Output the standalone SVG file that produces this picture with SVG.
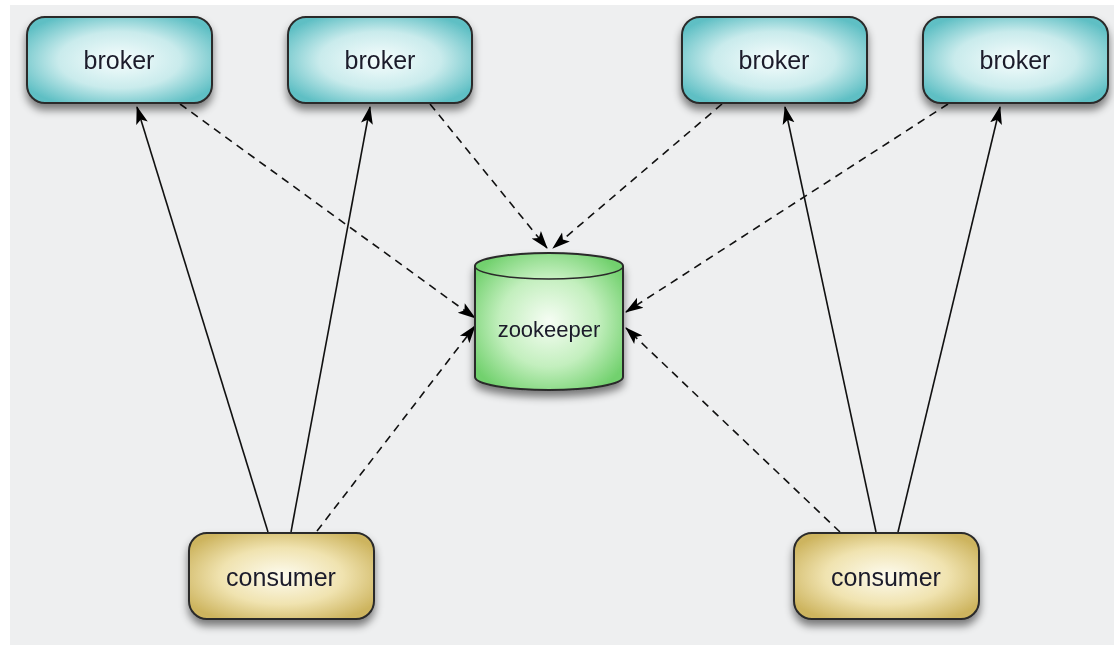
<svg xmlns="http://www.w3.org/2000/svg" width="1114" height="646" viewBox="0 0 1114 646">
<style>
.box{stroke:#2a2a2a;stroke-width:2}
.lbl{font-family:"Liberation Sans",Arial,sans-serif;font-size:25px;fill:#1a1a2a;text-anchor:middle;dominant-baseline:central}
.solid{stroke:#111;stroke-width:1.6;fill:none;marker-end:url(#ah)}
.dash{stroke:#111;stroke-width:1.6;fill:none;stroke-dasharray:8 6;marker-end:url(#ah)}
</style>
<defs>
<radialGradient id="gb" cx="50%" cy="50%" r="60%">
<stop offset="0" stop-color="#f6fdfd"/><stop offset="0.55" stop-color="#c9ebec"/><stop offset="1" stop-color="#5ebfc4"/>
</radialGradient>
<radialGradient id="gc" cx="50%" cy="50%" r="60%">
<stop offset="0" stop-color="#fdfbef"/><stop offset="0.55" stop-color="#f0e3b0"/><stop offset="1" stop-color="#cdb45e"/>
</radialGradient>
<radialGradient id="gz" cx="50%" cy="50%" r="60%">
<stop offset="0" stop-color="#f6fdf4"/><stop offset="0.55" stop-color="#c3efbe"/><stop offset="1" stop-color="#72d16e"/>
</radialGradient>
<filter id="sh" x="-20%" y="-20%" width="140%" height="160%">
<feGaussianBlur in="SourceAlpha" stdDeviation="4"/>
<feOffset dy="6"/>
<feComponentTransfer><feFuncA type="linear" slope="0.5"/></feComponentTransfer>
<feMerge><feMergeNode/><feMergeNode in="SourceGraphic"/></feMerge>
</filter>
<marker id="ah" viewBox="0 0 18 14" refX="17" refY="7" markerWidth="18" markerHeight="14" markerUnits="userSpaceOnUse" orient="auto">
<path d="M0,1 L18,7 L0,13 L4,7 Z" fill="#000"/>
</marker>
</defs>
<rect x="0" y="0" width="1114" height="646" fill="#ffffff"/>
<rect x="10" y="5" width="1104" height="640" fill="#eeeff0"/>

<g id="connectors">
<line class="solid" x1="268" y1="532" x2="137" y2="107"/>
<line class="solid" x1="291" y1="532" x2="370" y2="107"/>
<line class="dash" x1="317" y1="531" x2="475" y2="326"/>
<line class="dash" x1="180" y1="104" x2="475" y2="318"/>
<line class="dash" x1="430" y1="104" x2="547" y2="248"/>
<line class="dash" x1="722" y1="104" x2="553" y2="248"/>
<line class="dash" x1="948" y1="104" x2="626" y2="312"/>
<line class="dash" x1="840" y1="532" x2="626" y2="328"/>
<line class="solid" x1="876" y1="532" x2="785" y2="107"/>
<line class="solid" x1="898" y1="532" x2="1000" y2="107"/>
</g>

<g id="broker1" filter="url(#sh)">
<rect class="box" x="27" y="17" width="185" height="86" rx="18" fill="url(#gb)"/>
<text class="lbl" x="119" y="60">broker</text>
</g>
<g id="broker2" filter="url(#sh)">
<rect class="box" x="288" y="17" width="184" height="86" rx="18" fill="url(#gb)"/>
<text class="lbl" x="380" y="60">broker</text>
</g>
<g id="broker3" filter="url(#sh)">
<rect class="box" x="682" y="17" width="185" height="86" rx="18" fill="url(#gb)"/>
<text class="lbl" x="774" y="60">broker</text>
</g>
<g id="broker4" filter="url(#sh)">
<rect class="box" x="923" y="17" width="185" height="86" rx="18" fill="url(#gb)"/>
<text class="lbl" x="1015" y="60">broker</text>
</g>

<g id="zookeeper" filter="url(#sh)">
<path class="box" d="M475,266 L475,377 A74,13 0 0 0 623,377 L623,266 A74,13 0 0 0 475,266 Z" fill="url(#gz)"/>
<path d="M475,266 A74,13 0 0 0 623,266" fill="none" stroke="#2a2a2a" stroke-width="1.5"/>
<text class="lbl" x="549" y="329" style="font-size:22px">zookeeper</text>
</g>

<g id="consumer1" filter="url(#sh)">
<rect class="box" x="189" y="533" width="185" height="86" rx="18" fill="url(#gc)"/>
<text class="lbl" x="281" y="577">consumer</text>
</g>
<g id="consumer2" filter="url(#sh)">
<rect class="box" x="794" y="533" width="185" height="86" rx="18" fill="url(#gc)"/>
<text class="lbl" x="886" y="577">consumer</text>
</g>
</svg>
